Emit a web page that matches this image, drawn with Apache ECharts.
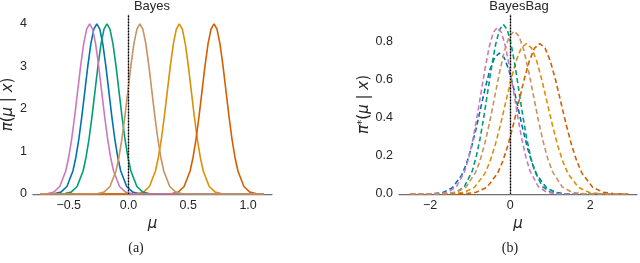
<!DOCTYPE html>
<html><head><meta charset="utf-8">
<script src="https://cdn.jsdelivr.net/npm/echarts@6/dist/echarts.min.js"></script>
<style>html,body{margin:0;padding:0;background:#fff}#c{width:640px;height:263px}</style>
</head><body><div id="c"></div>
<script>
// series order / colours (seaborn colorblind palette)
const seriesNames = ['s0', 's1', 's2', 's3', 's4', 's5'];
const seriesColors = ['#0173b2', '#de8f05', '#029e73', '#d55e00', '#cc78bc', '#ca9161'];

// ---------- Panel (a): Bayes ----------
const bayesTitle = 'Bayes';
const bayesXTicks = [-0.5, 0, 0.5, 1.0];
const bayesXTickLabels = ['−0.5', '0.0', '0.5', '1.0'];
const bayesYTicks = [0, 1, 2, 3, 4];
const bayesYTickLabels = ['0', '1', '2', '3', '4'];
// density values shared by all six posteriors (same shape)
const bayesDensity = [0, 0.001, 0.009, 0.044, 0.176, 0.541, 0.865, 1.299, 1.831, 2.426, 3.019, 3.53, 3.877, 4.0,
  3.877, 3.53, 3.019, 2.426, 1.831, 1.299, 0.865, 0.541, 0.176, 0.044, 0.009, 0.001, 0];
const bayesMuBlue = [-0.74, -0.665, -0.615, -0.565, -0.515, -0.465, -0.44, -0.415, -0.39, -0.365, -0.34, -0.315, -0.29, -0.265,
  -0.24, -0.215, -0.19, -0.165, -0.14, -0.115, -0.09, -0.065, -0.015, 0.035, 0.085, 0.135, 1.13];
const bayesMuOrange = [-0.74, 0.025, 0.075, 0.125, 0.175, 0.225, 0.25, 0.275, 0.3, 0.325, 0.35, 0.375, 0.4, 0.425,
  0.45, 0.475, 0.5, 0.525, 0.55, 0.575, 0.6, 0.625, 0.675, 0.725, 0.775, 0.825, 1.13];
const bayesMuGreen = [-0.74, -0.58, -0.53, -0.48, -0.43, -0.38, -0.355, -0.33, -0.305, -0.28, -0.255, -0.23, -0.205, -0.18,
  -0.155, -0.13, -0.105, -0.08, -0.055, -0.03, -0.005, 0.02, 0.07, 0.12, 0.17, 0.22, 1.13];
const bayesMuRed = [-0.74, 0.315, 0.365, 0.415, 0.465, 0.515, 0.54, 0.565, 0.59, 0.615, 0.64, 0.665, 0.69, 0.715,
  0.74, 0.765, 0.79, 0.815, 0.84, 0.865, 0.89, 0.915, 0.965, 1.015, 1.065, 1.115, 1.13];
const bayesMuPink = [-0.74, -0.725, -0.675, -0.625, -0.575, -0.525, -0.5, -0.475, -0.45, -0.425, -0.4, -0.375, -0.35, -0.325,
  -0.3, -0.275, -0.25, -0.225, -0.2, -0.175, -0.15, -0.125, -0.075, -0.025, 0.025, 0.075, 1.13];
const bayesMuTan = [-0.74, -0.305, -0.255, -0.205, -0.155, -0.105, -0.08, -0.055, -0.03, -0.005, 0.02, 0.045, 0.07, 0.095,
  0.12, 0.145, 0.17, 0.195, 0.22, 0.245, 0.27, 0.295, 0.345, 0.395, 0.445, 0.495, 1.13];

// ---------- Panel (b): BayesBag ----------
const bagTitle = 'BayesBag';
const bagXTicks = [-2, 0, 2];
const bagXTickLabels = ['−2', '0', '2'];
const bagYTicks = [0, 0.2, 0.4, 0.6, 0.8];
const bagYTickLabels = ['0.0', '0.2', '0.4', '0.6', '0.8'];

const bagMuBlue = [-2.5, -2.15, -1.915, -1.68, -1.445, -1.21, -1.0925, -0.975, -0.8575, -0.74, -0.6225, -0.505, -0.3875, -0.27,
  -0.1525, -0.035, 0.0825, 0.2, 0.3175, 0.435, 0.5525, 0.67, 0.905, 1.14, 1.375, 1.61, 2.95];
const bagDensBlue = [0, 0.0002, 0.0016, 0.0082, 0.0325, 0.100, 0.160, 0.240, 0.339, 0.449, 0.559, 0.653, 0.717, 0.74,
  0.717, 0.653, 0.559, 0.449, 0.339, 0.240, 0.160, 0.100, 0.0325, 0.0082, 0.0016, 0.0002, 0];

const bagMuOrange = [-2.5, -1.675, -1.415, -1.155, -0.895, -0.635, -0.505, -0.375, -0.245, -0.115, 0.015, 0.145, 0.275, 0.405,
  0.535, 0.665, 0.795, 0.925, 1.055, 1.185, 1.315, 1.445, 1.705, 1.965, 2.225, 2.485, 2.95];
const bagDensOrange = [0, 0.0002, 0.0017, 0.0088, 0.0347, 0.107, 0.171, 0.257, 0.362, 0.479, 0.596, 0.697, 0.766, 0.79,
  0.766, 0.697, 0.596, 0.479, 0.362, 0.257, 0.171, 0.107, 0.0347, 0.0088, 0.0017, 0.0002, 0];

const bagMuGreen = [-2.5, -1.73, -1.535, -1.34, -1.145, -0.95, -0.8525, -0.755, -0.6575, -0.56, -0.4625, -0.365, -0.2675, -0.17,
  -0.0725, 0.025, 0.1225, 0.22, 0.3175, 0.415, 0.5125, 0.61, 0.805, 1.0, 1.195, 1.39, 2.95];
const bagDensGreen = [0, 0.0003, 0.002, 0.0099, 0.039, 0.120, 0.193, 0.289, 0.407, 0.540, 0.672, 0.785, 0.863, 0.89,
  0.863, 0.785, 0.672, 0.540, 0.407, 0.289, 0.193, 0.120, 0.039, 0.0099, 0.002, 0.0003, 0];

const bagMuRed = [-2.5, -1.38, -1.115, -0.85, -0.585, -0.32, -0.1875, -0.055, 0.0775, 0.21, 0.3425, 0.475, 0.6075, 0.74,
  0.8725, 1.005, 1.1375, 1.27, 1.4025, 1.535, 1.6675, 1.8, 2.065, 2.33, 2.595, 2.86, 2.95];
const bagDensRed = [0, 0.0002, 0.0017, 0.0088, 0.0347, 0.107, 0.171, 0.257, 0.362, 0.479, 0.596, 0.697, 0.766, 0.79,
  0.766, 0.697, 0.596, 0.479, 0.362, 0.257, 0.171, 0.107, 0.0347, 0.0088, 0.0017, 0.0002, 0];

const bagMuPink = [-2.5, -1.96, -1.755, -1.55, -1.345, -1.14, -1.0375, -0.935, -0.8325, -0.73, -0.6275, -0.525, -0.4225, -0.32,
  -0.2175, -0.115, -0.0125, 0.09, 0.1925, 0.295, 0.3975, 0.5, 0.705, 0.91, 1.115, 1.32, 2.95];
const bagDensPink = [0, 0.0003, 0.0019, 0.0097, 0.038, 0.118, 0.189, 0.284, 0.401, 0.531, 0.660, 0.772, 0.848, 0.875,
  0.848, 0.772, 0.660, 0.531, 0.401, 0.284, 0.189, 0.118, 0.038, 0.0097, 0.0019, 0.0003, 0];

const bagMuTan = [-2.5, -1.82, -1.58, -1.34, -1.1, -0.86, -0.74, -0.62, -0.5, -0.38, -0.26, -0.14, -0.02, 0.10,
  0.22, 0.34, 0.46, 0.58, 0.7, 0.82, 0.94, 1.06, 1.3, 1.54, 1.78, 2.02, 2.95];
const bagDensTan = [0, 0.0003, 0.0019, 0.0095, 0.0375, 0.116, 0.185, 0.278, 0.391, 0.519, 0.645, 0.755, 0.829, 0.855,
  0.829, 0.755, 0.645, 0.519, 0.391, 0.278, 0.185, 0.116, 0.0375, 0.0095, 0.0019, 0.0003, 0];

const captions = ['(a)', '(b)'];

// ---------- build ----------
const bayesMu = [bayesMuBlue, bayesMuOrange, bayesMuGreen, bayesMuRed, bayesMuPink, bayesMuTan];
const bagMu = [bagMuBlue, bagMuOrange, bagMuGreen, bagMuRed, bagMuPink, bagMuTan];
const bagDens = [bagDensBlue, bagDensOrange, bagDensGreen, bagDensRed, bagDensPink, bagDensTan];

const pair = (xs, ys) => xs.map((x, i) => [x, ys[i]]);
const tickFmt = (ticks, labels) => v => {
  for (let i = 0; i < ticks.length; i++) if (Math.abs(v - ticks[i]) < 1e-6) return labels[i];
  return '';
};
const FONT = 'Liberation Sans';
const TXT = '#262626';
const axisLineStyle = { lineStyle: { color: '#6e6e6e', width: 1.25 } };
const nameRich = {
  i: { fontFamily: 'DejaVu Sans', fontStyle: 'italic', fontSize: 15, color: TXT },
  n: { fontFamily: 'DejaVu Sans', fontSize: 15, color: TXT },
  s: { fontFamily: 'DejaVu Sans', fontSize: 10.5, color: TXT, verticalAlign: 'top' }
};

function xAxis(idx, min, max, split, ticks, labels, nameGapX) {
  return {
    type: 'value', gridIndex: idx, min, max, splitNumber: split,
    axisLine: axisLineStyle, axisTick: { show: false }, splitLine: { show: false },
    axisLabel: { formatter: tickFmt(ticks, labels), fontFamily: FONT, fontSize: 12.5, color: TXT, margin: 5 },
    name: '{i|μ}', nameLocation: 'middle', nameGap: nameGapX,
    nameTextStyle: { rich: nameRich }
  };
}
function yAxis(idx, min, max, ticks, labels, name, gap) {
  return {
    type: 'value', gridIndex: idx, min, max,
    axisLine: { show: true, ...axisLineStyle }, axisTick: { show: false }, splitLine: { show: false },
    axisLabel: { formatter: tickFmt(ticks, labels), fontFamily: FONT, fontSize: 12.5, color: TXT, margin: 6 },
    name, nameLocation: 'middle', nameGap: gap, nameRotate: 90,
    nameTextStyle: { rich: nameRich }
  };
}

const zeroLine = {
  silent: true, symbol: 'none', label: { show: false },
  lineStyle: { color: '#000', type: [1.2, 1.8], width: 1.3 },
  data: [{ xAxis: 0 }]
};

const series = [];
seriesNames.forEach((n, k) => {
  series.push({
    name: 'bayes-' + n, type: 'line', xAxisIndex: 0, yAxisIndex: 0,
    data: pair(bayesMu[k], bayesDensity), showSymbol: false, smooth: false,
    lineStyle: { color: seriesColors[k], width: 1.6 }, itemStyle: { color: seriesColors[k] },
    markLine: k === seriesNames.length - 1 ? zeroLine : undefined
  });
});
seriesNames.forEach((n, k) => {
  series.push({
    name: 'bag-' + n, type: 'line', xAxisIndex: 1, yAxisIndex: 1,
    data: pair(bagMu[k], bagDens[k]), showSymbol: false, smooth: false,
    lineStyle: { color: seriesColors[k], width: 1.6, type: [5, 3] }, itemStyle: { color: seriesColors[k] },
    markLine: k === seriesNames.length - 1 ? zeroLine : undefined
  });
});

const chart = echarts.init(document.getElementById('c'), null, { renderer: 'canvas' });
chart.setOption({
  animation: false,
  backgroundColor: '#fff',
  grid: [
    { left: 32, top: 15, width: 240, height: 179 },
    { left: 399, top: 15, width: 239, height: 179 }
  ],
  xAxis: [
    xAxis(0, -0.8, 1.2, 5, bayesXTicks, bayesXTickLabels, 17),
    xAxis(1, -2.78, 3.17, 3, bagXTicks, bagXTickLabels, 17)
  ],
  yAxis: [
    yAxis(0, 0, 4.21, bayesYTicks, bayesYTickLabels, '{i|π}{n|(}{i|μ}{n| | }{i|x}{n|)}', 13),
    yAxis(1, 0, 0.94, bagYTicks, bagYTickLabels, '{i|π}{s|*}{n|(}{i|μ}{n| | }{i|x}{n|)}', 27)
  ],
  graphic: [
    { type: 'text', x: 152, y: 0, style: { text: bayesTitle, align: 'center', verticalAlign: 'top', fontFamily: FONT, fontSize: 13, fill: TXT } },
    { type: 'text', x: 519, y: 0, style: { text: bagTitle, align: 'center', verticalAlign: 'top', fontFamily: FONT, fontSize: 13, fill: TXT } },
    { type: 'text', x: 136, y: 248, style: { text: captions[0], align: 'center', verticalAlign: 'middle', fontFamily: 'Liberation Serif', fontSize: 14, fill: '#222' } },
    { type: 'text', x: 510, y: 248, style: { text: captions[1], align: 'center', verticalAlign: 'middle', fontFamily: 'Liberation Serif', fontSize: 14, fill: '#222' } }
  ],
  series
});
</script>
</body></html>
